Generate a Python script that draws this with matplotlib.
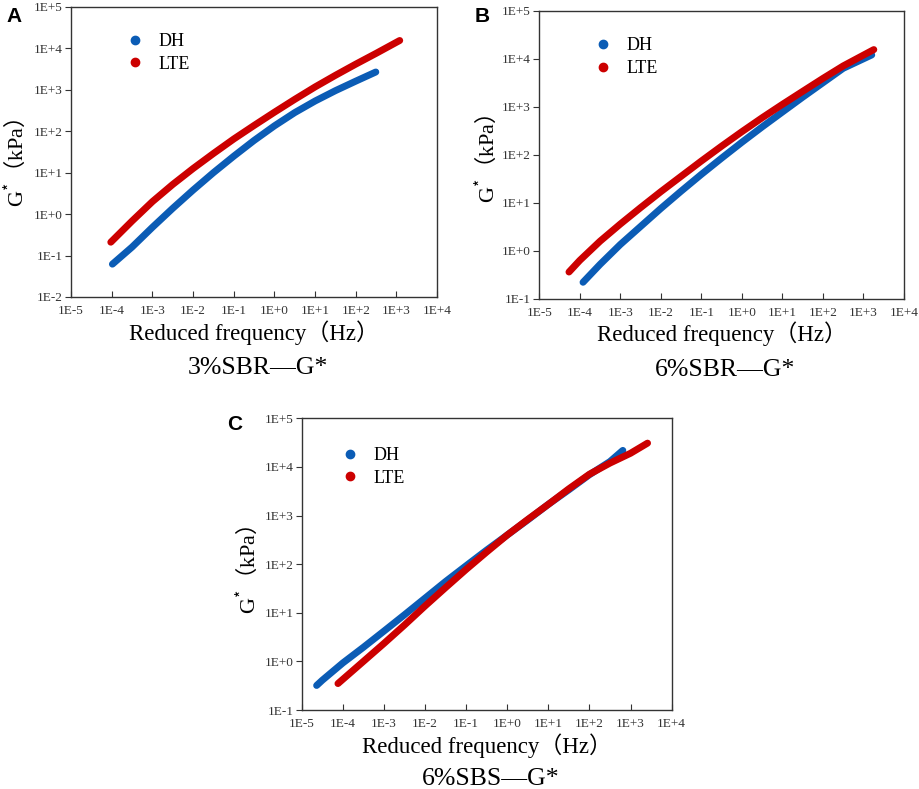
import matplotlib
matplotlib.use("Agg")
import matplotlib.pyplot as plt

plt.rcParams['font.family'] = ['Liberation Serif', 'Noto Sans CJK SC']
plt.rcParams['mathtext.fontset'] = 'custom'
plt.rcParams['mathtext.rm'] = 'Noto Sans CJK SC'
plt.rcParams['mathtext.it'] = 'Liberation Serif:italic'
plt.rcParams['mathtext.fallback'] = 'stix'

BLUE = '#0b5cb5'
RED = '#cc0000'

# Panel A: 3%SBR
a_dh_x = [1.04e-4, 3.16e-4, 1e-3, 3.16e-3, 1e-2, 3.16e-2, 1e-1, 3.16e-1,
          1e0, 3.16e0, 1e1, 3.16e1, 1e2, 3.1e2]
a_dh_y = [0.062, 0.16, 0.48, 1.38, 3.8, 10, 25, 60, 135, 282, 537, 955, 1620, 2690]
a_lte_x = [9.5e-5, 3.16e-4, 1e-3, 3.16e-3, 1e-2, 3.16e-2, 1e-1, 3.16e-1,
           1e0, 3.16e0, 1e1, 3.16e1, 1e2, 3.16e2, 1.2e3]
a_lte_y = [0.21, 0.68, 2.0, 5.2, 12.6, 29, 65, 138, 288, 589, 1175, 2240, 4170, 7590, 15500]

# Panel B: 6%SBR
b_dh_x = [1.2e-4, 3.16e-4, 1e-3, 3.16e-3, 1e-2, 3.16e-2, 1e-1, 3.16e-1,
          1e0, 3.16e0, 1e1, 3.16e1, 1e2, 3.16e2, 1.6e3]
b_dh_y = [0.22, 0.52, 1.35, 3.2, 7.6, 17.4, 39, 85, 182, 380, 776, 1580, 3160, 6310, 12000]
b_lte_x = [5.4e-5, 1e-4, 3.16e-4, 1e-3, 3.16e-3, 1e-2, 3.16e-2, 1e-1, 3.16e-1,
           1e0, 3.16e0, 1e1, 3.16e1, 1e2, 3.16e2, 1.8e3]
b_lte_y = [0.36, 0.63, 1.58, 3.6, 7.9, 17, 35.5, 74, 151, 302, 589, 1120, 2090,
           3890, 7080, 15500]

# Panel C: 6%SBS
c_dh_x = [2.3e-5, 3.16e-5, 1e-4, 3.16e-4, 1e-3, 3.16e-3, 1e-2, 3.16e-2, 1e-1,
          3.16e-1, 1e0, 3.16e0, 1e1, 3.16e1, 1e2, 3.16e2, 6.5e2]
c_dh_y = [0.32, 0.41, 0.93, 1.95, 4.2, 9.1, 20, 44, 93, 195, 398, 813, 1700, 3390,
          6920, 12900, 21900]
c_lte_x = [7.6e-5, 3.16e-4, 1e-3, 3.16e-3, 1e-2, 3.16e-2, 1e-1, 3.16e-1,
           1e0, 3.16e0, 1e1, 3.16e1, 1e2, 3.16e2, 1e3, 2.6e3]
c_lte_y = [0.35, 1.0, 2.34, 5.6, 13.8, 33, 78, 178, 398, 832, 1700, 3550,
           7080, 12000, 19100, 30900]

x_ticks = [10.0 ** k for k in range(-5, 5)]
x_labels = ['1E-5', '1E-4', '1E-3', '1E-2', '1E-1', '1E+0', '1E+1', '1E+2', '1E+3', '1E+4']

# letter, axes rect, lowest y exponent, data, subtitle, subtitle y,
# legend anchor, letter pos, ylabel pos
panels = [
    ('A', [0.0772, 0.6236, 0.398, 0.3676], -2, a_dh_x, a_dh_y, a_lte_x, a_lte_y,
     '3%SBR—G*', -0.267, (0.115, 0.953), (-0.175, 1.0), (-0.118, 0.462)),
    ('B', [0.5862, 0.6214, 0.3964, 0.365], -1, b_dh_x, b_dh_y, b_lte_x, b_lte_y,
     '6%SBR—G*', -0.267, (0.115, 0.951), (-0.178, 1.013), (-0.112, 0.485)),
    ('C', [0.328, 0.1001, 0.402, 0.3697], -1, c_dh_x, c_dh_y, c_lte_x, c_lte_y,
     '6%SBS—G*', -0.256, (0.072, 0.944), (-0.203, 1.01), (-0.114, 0.48)),
]

fig = plt.figure(figsize=(9.2, 7.89), dpi=100)

for (letter, pos, ymin_exp, dx, dy, lx, ly, title, title_y,
     leg_xy, let_xy, ylab_xy) in panels:
    ax = fig.add_axes(pos)
    ax.set_xscale('log')
    ax.set_yscale('log')
    ax.plot(dx, dy, '-', color=BLUE, lw=5, solid_capstyle='round')
    ax.plot(lx, ly, '-', color=RED, lw=5, solid_capstyle='round')
    ax.plot([], [], 'o', color=BLUE, ms=6, label='DH')
    ax.plot([], [], 'o', color=RED, ms=6, label='LTE')
    ax.set_xlim(1e-5, 1e4)
    ax.set_ylim(10.0 ** ymin_exp, 1e5)
    ax.set_xticks(x_ticks)
    ax.set_xticklabels(x_labels)
    y_ticks = [10.0 ** k for k in range(ymin_exp, 6)]
    y_labels = ['1E%+d' % k for k in range(ymin_exp, 6)]
    ax.set_yticks(y_ticks)
    ax.set_yticklabels(y_labels)
    ax.minorticks_off()
    ax.tick_params(axis='x', direction='in', length=4, labelsize=9.5, colors='#333333', pad=6)
    ax.tick_params(axis='y', direction='out', length=4, labelsize=9.5, colors='#333333', pad=2)
    for sp in ax.spines.values():
        sp.set_color('#333333')
        sp.set_linewidth(1.0)
    ax.set_xlabel('Reduced frequency（Hz）', fontsize=16.5, labelpad=2)
    ax.set_ylabel('G$^{*}$$\\mathrm{（}$kPa$\\mathrm{）}$', fontsize=16)
    ax.yaxis.set_label_coords(*ylab_xy)
    ax.legend(loc='upper left', bbox_to_anchor=leg_xy, frameon=False,
              fontsize=13, handletextpad=0.8, labelspacing=0.3, borderpad=0.2,
              handlelength=1.0)
    ax.text(let_xy[0], let_xy[1], letter, transform=ax.transAxes, fontsize=15,
            fontweight='bold', family='Liberation Sans', va='top', ha='left')
    ax.text(0.51, title_y, title, transform=ax.transAxes, fontsize=18.5,
            ha='center', va='baseline')

fig.savefig('out.png', dpi=100)
